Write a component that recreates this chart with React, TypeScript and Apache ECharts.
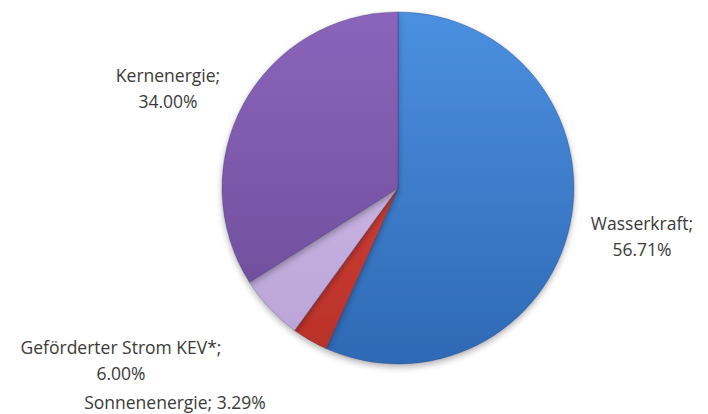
import React, { useEffect, useRef } from "react";
import * as echarts from "echarts";

const categories = ["Wasserkraft", "Sonnenenergie", "Geförderter Strom KEV*", "Kernenergie"];
const shares = [56.71, 3.29, 6.0, 34.0];
const sliceTop = ["#4c8fe0", "#e04a3c", "#d4c2ec", "#8b64bb"];
const sliceBottom = ["#2e69b4", "#b8302a", "#b9a2d6", "#6a4a96"];
// label anchor positions (label layout only)
const labelPos: [number, number][] = [
  [642, 236],
  [175, 402],
  [121, 360],
  [168, 88],
];

export default function App() {
  const ref = useRef<HTMLDivElement>(null);
  useEffect(() => {
    if (!ref.current) return;
    const chart = echarts.init(ref.current, null, { renderer: "svg" });
    chart.setOption({
      animation: false,
      backgroundColor: "#ffffff",
      series: [
        {
          type: "pie",
          center: [398, 188],
          radius: 176,
          startAngle: 90,
          clockwise: true,
          avoidLabelOverlap: false,
          data: categories.map((name, i) => ({
            name,
            value: shares[i],
            label: name === "Sonnenenergie" ? { lineHeight: 20 } : undefined,
            itemStyle: {
              color: new echarts.graphic.LinearGradient(0, 12, 0, 364, [
                { offset: 0, color: sliceTop[i] },
                { offset: 1, color: sliceBottom[i] },
              ], true),
            },
          })),
          itemStyle: {
            borderColor: "rgba(40,40,80,0.35)",
            borderWidth: 0.8,
            shadowBlur: 6,
            shadowOffsetY: 3,
            shadowColor: "rgba(0,0,0,0.3)",
          },
          label: {
            show: true,
            position: "outside",
            color: "#3a3a3a",
            fontFamily: "Open Sans, Liberation Sans, sans-serif",
            fontSize: 17.5,
            lineHeight: 26,
            align: "center",
            formatter: (p: any) =>
              p.name === "Sonnenenergie"
                ? `${p.name}; ${p.value.toFixed(2)}%`
                : `${p.name};\n${p.value.toFixed(2)}%`,
          },
          labelLine: { show: false },
          labelLayout: (params: any) => {
            const pos = labelPos[params.dataIndex];
            return { x: pos[0], y: pos[1], align: "center", verticalAlign: "middle" };
          },
          emphasis: { disabled: true },
        },
      ],
    });
    return () => chart.dispose();
  }, []);
  return (
    <div
      ref={ref}
      style={{ position: "absolute", left: 0, top: 0, width: 708, height: 414 }}
    />
  );
}
